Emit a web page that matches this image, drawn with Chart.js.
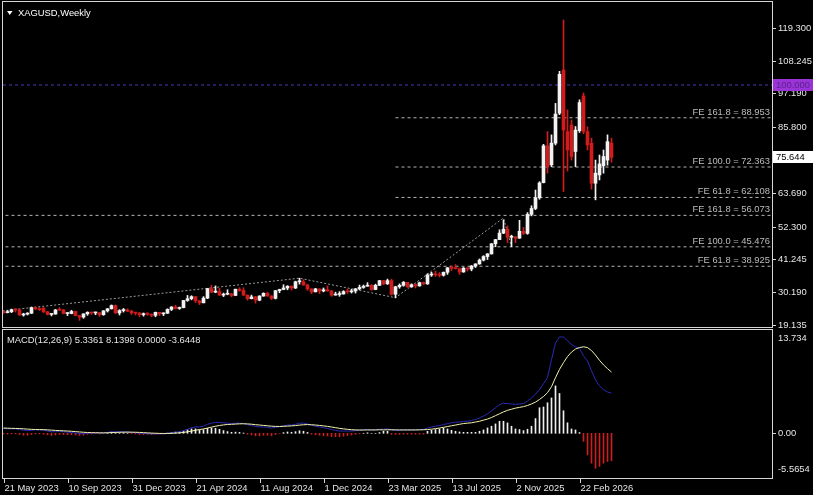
<!DOCTYPE html>
<html>
<head>
<meta charset="utf-8">
<script src="https://cdn.jsdelivr.net/npm/chart.js@4.4.1/dist/chart.umd.min.js"></script>
<style>
  html, body { margin: 0; padding: 0; background: #000; }
  #wrap { position: relative; width: 813px; height: 495px; background: #000; overflow: hidden; }
  #main { position: absolute; left: 0; top: 0; }
  #macd { position: absolute; left: 0; top: 328px; }
</style>
</head>
<body>
<div id="wrap">
  <canvas id="main" width="813" height="328"></canvas>
  <canvas id="macd" width="813" height="167"></canvas>
</div>
<script>
// XAGUSD weekly candles, one per week starting 21 May 2023
const opens = [
  23.55,23.30,23.60,24.30,24.20,22.50,22.80,23.10,25.00,24.60,
  24.80,23.60,22.70,22.80,24.20,24.20,23.00,23.00,23.70,22.30,
  21.80,22.90,23.40,23.20,23.30,22.60,23.90,24.60,25.70,23.20,
  24.00,24.20,23.80,23.20,23.20,22.60,22.80,22.75,22.40,23.40,
  22.90,23.10,24.40,25.20,24.70,25.00,27.40,28.00,28.70,27.30,
  26.60,28.20,31.40,30.20,30.40,29.20,29.50,29.60,29.10,31.20,
  30.80,29.20,28.00,28.60,27.50,28.90,29.80,28.90,28.10,30.70,
  31.10,31.60,32.20,31.60,33.70,33.70,32.60,31.30,30.30,31.30,
  30.60,31.00,30.60,29.20,29.40,29.60,30.40,30.30,30.60,31.30,
  31.80,32.20,32.50,31.10,32.50,34.10,33.00,34.10,29.50,32.00,
  32.50,33.50,32.00,32.70,32.30,33.40,33.00,36.00,36.30,36.00,
  35.90,36.90,38.40,38.20,38.10,37.00,38.30,38.00,39.00,39.70,
  41.00,42.20,43.10,46.50,47.90,50.10,51.40,48.70,48.70,48.40,
  50.70,50.00,56.40,58.40,62.00,67.10,79.50,73.10,80.40,90.50,
  105.00,84.30,86.50,77.60,84.60,96.30,84.30,80.40,66.90,69.70,
  72.80,74.70,80.40
];
const highs = [
  23.80,24.00,24.50,24.60,24.50,23.10,23.30,25.20,25.30,25.00,
  25.00,23.70,23.00,24.40,25.00,24.40,23.30,24.10,23.80,22.40,
  22.90,23.60,23.40,23.50,23.30,24.00,24.70,25.90,25.90,24.30,
  24.70,24.60,24.10,23.40,23.30,23.20,23.30,22.90,23.50,23.40,
  23.20,24.60,25.30,25.80,25.20,27.40,29.10,29.00,28.70,27.40,
  28.70,31.50,32.50,32.30,31.50,29.90,31.00,29.80,31.20,31.70,
  31.70,29.30,29.20,28.80,29.00,30.00,30.20,29.00,30.80,31.20,
  32.70,32.40,32.30,33.90,34.90,34.40,32.90,31.30,31.50,31.30,
  31.60,32.30,30.80,30.20,30.40,30.70,31.30,31.20,31.50,32.60,
  32.60,33.40,32.80,32.90,34.20,34.10,34.60,34.60,32.20,33.00,
  33.80,33.50,33.00,33.00,33.60,33.60,36.40,36.90,37.30,36.80,
  37.00,38.50,39.00,39.50,38.30,38.50,38.50,39.20,39.80,41.40,
  42.50,43.20,46.60,48.00,51.20,54.50,52.50,49.40,49.00,54.40,
  52.00,57.00,59.30,64.60,67.40,80.00,84.30,83.20,93.80,104.60,
  121.90,91.60,88.20,86.00,95.00,97.30,85.90,82.10,74.70,76.40,
  78.10,83.20,82.10
];
const lows = [
  23.00,23.20,23.30,23.50,22.40,22.10,22.50,23.00,24.30,24.00,
  23.30,22.50,22.20,22.80,24.00,22.90,22.30,22.90,22.20,20.70,
  21.40,22.40,22.70,22.60,22.00,22.40,23.50,24.50,23.00,22.50,
  23.50,23.60,22.70,22.50,21.90,22.10,22.40,21.90,21.90,22.30,
  22.30,23.00,24.00,24.50,24.40,24.90,27.10,27.60,26.70,26.00,
  26.60,28.00,30.00,30.00,29.10,28.70,29.30,28.60,29.00,30.50,
  29.10,27.50,27.90,26.50,27.30,28.80,28.80,27.70,27.90,30.00,
  31.00,31.00,30.90,31.40,32.90,32.50,30.80,29.70,30.30,29.70,
  30.30,30.50,28.80,29.20,28.80,29.50,29.80,29.90,29.90,31.00,
  31.50,32.20,30.80,31.00,32.40,32.70,32.80,29.20,28.30,31.50,
  32.20,31.80,31.80,31.60,32.20,32.80,32.80,35.50,35.50,35.30,
  35.60,36.20,37.40,38.00,36.20,36.90,37.30,37.40,38.50,39.60,
  40.70,41.20,43.00,45.50,47.90,49.90,46.90,45.50,46.90,48.30,
  49.60,49.70,55.90,58.00,61.50,67.00,70.30,72.50,79.80,90.00,
  64.10,71.00,74.70,72.50,84.00,83.60,78.10,64.90,61.30,68.00,
  70.30,73.00,74.00
];
const closes = [
  23.30,23.60,24.30,24.20,22.50,22.80,23.10,25.00,24.60,24.30,
  23.60,22.70,22.80,24.20,24.15,23.00,23.05,23.70,22.30,21.80,
  22.90,23.40,23.20,23.30,22.60,23.90,24.60,25.70,23.20,24.00,
  24.20,23.80,23.20,23.15,22.60,22.80,22.75,22.40,23.40,22.90,
  23.10,24.40,25.20,24.70,25.00,27.40,28.00,28.70,27.30,26.60,
  28.20,31.40,30.20,30.40,29.20,29.50,29.60,29.10,31.20,30.80,
  29.20,28.00,28.60,27.50,28.90,29.80,28.90,28.10,30.70,31.10,
  31.60,32.20,31.60,33.70,33.75,32.60,31.30,30.30,31.30,30.60,
  31.00,30.60,29.20,29.40,29.60,30.40,30.30,30.60,31.30,31.80,
  32.20,32.50,31.10,32.50,34.10,33.00,34.10,29.50,32.00,32.50,
  33.50,32.00,32.70,32.30,33.40,33.00,36.00,36.30,36.00,35.90,
  36.90,38.40,38.20,38.10,37.00,38.30,38.00,39.00,39.70,41.00,
  42.20,43.10,46.50,47.90,50.10,51.40,48.70,48.80,48.40,50.70,
  50.00,56.40,58.40,62.00,67.00,79.50,72.50,80.40,90.20,103.60,
  84.80,78.10,75.90,84.80,94.10,84.30,79.80,66.90,70.30,73.40,
  75.90,80.90,75.644
];

// MACD(12,26,9) buffers
const macdMain = [
  0.65,0.60,0.60,0.60,0.50,0.40,0.35,0.40,0.45,0.45,0.40,
  0.30,0.20,0.22,0.25,0.20,0.15,0.12,0.05,-0.05,-0.05,
  0.00,0.02,0.05,0.02,0.05,0.12,0.22,0.20,0.20,0.20,0.18,
  0.12,0.08,0.00,-0.03,-0.05,-0.10,-0.08,-0.08,-0.08,0.00,0.10,0.15,0.20,
  0.35,0.55,0.75,0.85,0.85,0.95,1.20,1.35,1.45,1.45,1.40,1.35,1.30,1.35,1.35,1.30,
  1.15,1.05,0.90,0.85,0.85,0.80,0.70,0.80,0.90,1.00,1.10,1.10,1.20,1.35,1.35,
  1.25,1.05,0.95,0.85,0.75,0.65,0.50,0.40,0.30,0.30,0.30,0.30,0.35,0.40,0.45,0.50,0.45,0.45,0.55,
  0.55,0.60,0.45,0.40,0.40,0.45,0.45,0.45,0.45,0.50,0.50,0.70,0.85,0.95,1.05,1.15,
  1.30,1.40,1.50,1.50,1.60,1.60,1.70,1.85,2.05,2.30,2.60,3.00,3.40,3.80,4.00,
  3.95,3.90,3.85,3.90,3.95,4.30,4.70,5.20,5.80,6.60,7.40,9.80,12.00,12.80,
  12.80,12.30,11.80,11.50,11.30,10.30,9.60,8.30,7.10,6.30,5.80,5.50,5.3361
];
const macdSignal = [
  0.70,0.68,0.66,0.65,0.63,0.60,0.56,0.53,0.51,0.50,0.49,
  0.46,0.42,0.39,0.36,0.33,0.30,0.27,0.23,0.18,0.14,
  0.11,0.09,0.08,0.07,0.06,0.07,0.10,0.12,0.14,0.15,0.16,
  0.15,0.14,0.12,0.09,0.06,0.03,0.01,-0.01,-0.02,-0.02,0.00,0.03,0.06,
  0.12,0.20,0.30,0.40,0.50,0.58,0.70,0.82,0.94,1.04,1.12,1.17,1.20,1.23,1.26,1.27,
  1.25,1.21,1.15,1.10,1.05,1.00,0.95,0.92,0.91,0.93,0.96,0.99,1.03,1.09,1.14,
  1.16,1.14,1.10,1.05,0.99,0.92,0.84,0.75,0.66,0.59,0.53,0.48,0.45,0.44,0.44,0.45,0.45,0.45,0.47,
  0.45,0.47,0.47,0.46,0.45,0.45,0.45,0.45,0.45,0.46,0.47,0.50,0.55,0.62,0.70,0.80,
  0.90,1.00,1.10,1.20,1.30,1.35,1.40,1.50,1.60,1.75,1.90,2.10,2.35,2.60,2.85,
  3.05,3.20,3.35,3.45,3.55,3.70,3.90,4.15,4.50,4.90,5.40,6.20,7.40,8.50,
  9.40,10.20,10.80,11.20,11.40,11.50,11.40,11.00,10.40,9.70,9.10,8.60,8.1398
];
const macdHist = [
  -0.07,-0.10,-0.08,-0.07,-0.17,-0.26,-0.27,-0.17,-0.08,-0.07,-0.12,
  -0.21,-0.29,-0.22,-0.14,-0.17,-0.20,-0.20,-0.23,-0.30,-0.25,
  -0.14,-0.09,-0.04,-0.07,-0.01,0.07,0.16,0.10,0.08,0.07,0.03,
  -0.04,-0.08,-0.16,-0.16,-0.14,-0.17,-0.12,-0.09,-0.08,0.03,0.13,0.16,0.18,
  0.30,0.46,0.59,0.59,0.46,0.48,0.65,0.69,0.66,0.53,0.36,0.23,0.13,0.16,0.12,0.04,
  -0.13,-0.21,-0.33,-0.33,-0.26,-0.26,-0.33,-0.16,-0.01,0.09,0.18,0.14,0.22,0.34,0.27,
  0.12,-0.12,-0.20,-0.26,-0.31,-0.35,-0.44,-0.46,-0.47,-0.38,-0.30,-0.23,-0.13,-0.05,0.01,0.07,0.00,0.00,0.10,
  0.27,0.27,-0.15,-0.15,-0.15,-0.12,-0.12,-0.12,-0.12,-0.10,-0.10,0.27,0.40,0.50,0.58,0.70,
  0.58,0.40,0.27,0.18,0.13,0.13,0.13,0.13,0.27,0.45,0.71,0.94,1.25,1.60,1.60,
  1.38,0.94,0.58,0.50,0.36,0.54,0.94,1.96,3.40,3.50,4.06,4.70,6.30,5.30,
  3.00,1.40,0.58,0.45,0.10,-1.07,-2.86,-3.97,-4.64,-4.40,-3.97,-3.75,-3.6448
];

// right price scale labels
const priceTicks = ['119.300','108.245','97.190','85.800','63.690','52.300','41.245','30.190','19.135'];
const macdTicks = ['13.734','0.00','-5.5654'];
// date axis: bar index of each label
const dateTickIdx = [0,16,32,48,64,80,96,112,128,144];
const dateTickLabels = ['21 May 2023','10 Sep 2023','31 Dec 2023','21 Apr 2024','11 Aug 2024',
  '1 Dec 2024','23 Mar 2025','13 Jul 2025','2 Nov 2025','22 Feb 2026'];

// fibo expansion levels
const feRatio = ['161.8','100.0','61.8','161.8','100.0','61.8'];
const feValue = [88.953,72.363,62.108,56.073,45.476,38.925];
const feFrom = [98,98,98,-43,-43,-43];
// A-B-C anchor points of the two expansions
const fiboX = [-43,74,98,125,127];
const fiboY = [17.60,34.90,28.33,55.20,45.50];
const roundLevel = 100.000;
const lastPrice = 75.644;
const macdLabel = 'MACD(12,26,9) 5.3361 8.1398 0.0000 -3.6448';

const FONT = '9.4px "Liberation Sans", Arial, sans-serif';
const XMIN = -0.125, XMAX = 192.125;
const idx = opens.map((_, i) => i);
const candleCol = idx.map(i => closes[i] >= opens[i] ? '#f2f2f2' : '#d01c1c');

const mainDeco = {
  id: 'mainDeco',
  afterDraw(chart) {
    const { ctx, scales: { y } } = chart;
    ctx.save();
    ctx.font = FONT;
    // FE labels
    ctx.fillStyle = '#bdbdbd';
    ctx.textAlign = 'right';
    ctx.textBaseline = 'alphabetic';
    feValue.forEach((v, k) => {
      ctx.fillText('FE ' + feRatio[k] + ' = ' + v.toFixed(3), 770, Math.round(y.getPixelForValue(v)) - 3);
    });
    // frame
    ctx.strokeStyle = '#d6d6d6';
    ctx.lineWidth = 1;
    ctx.strokeRect(2.5, 1.5, 770, 326);
    // price axis
    ctx.fillStyle = '#e6e6e6';
    ctx.textAlign = 'left';
    ctx.textBaseline = 'middle';
    priceTicks.forEach(t => {
      const py = Math.round(y.getPixelForValue(parseFloat(t))) + 0.5;
      ctx.beginPath(); ctx.moveTo(773, py); ctx.lineTo(776, py); ctx.stroke();
      ctx.fillText(t, 778, py);
    });
    // level boxes
    let py = Math.round(y.getPixelForValue(roundLevel));
    ctx.fillStyle = '#9a34d6';
    ctx.fillRect(773, py - 6, 40, 12);
    ctx.fillStyle = '#5c1f8e';
    ctx.fillText(roundLevel.toFixed(3), 776, py);
    py = Math.round(y.getPixelForValue(lastPrice));
    ctx.fillStyle = '#ffffff';
    ctx.fillRect(773, py - 6, 40, 12);
    ctx.fillStyle = '#000000';
    ctx.fillText(lastPrice.toFixed(3), 776, py);
    // title
    ctx.fillStyle = '#ffffff';
    ctx.beginPath(); ctx.moveTo(7, 11); ctx.lineTo(12.5, 11); ctx.lineTo(9.75, 15); ctx.closePath(); ctx.fill();
    ctx.fillText('XAGUSD,Weekly', 18, 13.5);
    ctx.restore();
  }
};

const macdDeco = {
  id: 'macdDeco',
  afterDraw(chart) {
    const { ctx, scales: { x, y } } = chart;
    ctx.save();
    ctx.font = FONT;
    ctx.strokeStyle = '#d6d6d6';
    ctx.lineWidth = 1;
    ctx.strokeRect(2.5, 1.5, 770, 149);
    ctx.fillStyle = '#e6e6e6';
    ctx.textBaseline = 'middle';
    ctx.textAlign = 'left';
    ctx.fillText(macdLabel, 7, 12);
    // macd axis
    ctx.fillText(macdTicks[0], 778, 10);
    let py = Math.round(y.getPixelForValue(0)) + 0.5;
    ctx.beginPath(); ctx.moveTo(773, py); ctx.lineTo(776, py); ctx.stroke();
    ctx.fillText(macdTicks[1], 778, py);
    ctx.fillText(macdTicks[2], 778, 141);
    // date axis
    dateTickIdx.forEach((i, k) => {
      const px = Math.round(x.getPixelForValue(i)) + 0.5;
      ctx.beginPath(); ctx.moveTo(px, 151); ctx.lineTo(px, 155); ctx.stroke();
      ctx.fillText(dateTickLabels[k], px, 160);
    });
    ctx.restore();
  }
};

const baseOpts = {
  responsive: false,
  animation: false,
  events: [],
  plugins: { legend: { display: false }, tooltip: { enabled: false } }
};

new Chart(document.getElementById('main'), {
  type: 'bar',
  data: {
    datasets: [
      ...feValue.map((v, k) => ({
        type: 'line',
        data: [{ x: feFrom[k], y: v }, { x: XMAX, y: v }],
        borderColor: '#b4b4b4', borderWidth: 1, borderDash: [3, 3],
        pointRadius: 0, order: 5
      })),
      {
        type: 'line',
        data: [{ x: XMIN, y: roundLevel }, { x: XMAX, y: roundLevel }],
        borderColor: '#4a3cb4', borderWidth: 1, borderDash: [3, 3],
        pointRadius: 0, order: 5
      },
      {
        type: 'line',
        data: fiboX.map((xv, k) => ({ x: xv, y: fiboY[k] })),
        borderColor: '#9a9a9a', borderWidth: 1, borderDash: [2, 2],
        pointRadius: 0, order: 4
      },
      {
        data: idx.map(i => ({ x: i, y: [lows[i], highs[i]] })),
        backgroundColor: candleCol, barThickness: 1, grouped: false, order: 2
      },
      {
        data: idx.map(i => ({ x: i, y: [opens[i], closes[i]] })),
        backgroundColor: candleCol, barThickness: 3, grouped: false, minBarLength: 1, order: 1
      }
    ]
  },
  options: {
    ...baseOpts,
    layout: { padding: { left: 3, right: 41, top: 2, bottom: 1 } },
    scales: {
      x: { type: 'linear', min: XMIN, max: XMAX, offset: false, display: false },
      y: { min: 18.461, max: 127.96, display: false }
    }
  },
  plugins: [mainDeco]
});

new Chart(document.getElementById('macd'), {
  type: 'bar',
  data: {
    datasets: [
      {
        type: 'line',
        data: idx.map(i => ({ x: i, y: macdSignal[i] })),
        borderColor: '#f2f2ac', borderWidth: 1, pointRadius: 0, order: 0
      },
      {
        type: 'line',
        data: idx.map(i => ({ x: i, y: macdMain[i] })),
        borderColor: '#2a2ab8', borderWidth: 1, pointRadius: 0, order: 1
      },
      {
        data: idx.map(i => ({ x: i, y: macdHist[i] })),
        backgroundColor: macdHist.map(v => v >= 0 ? '#efefef' : '#cc1f1f'),
        barThickness: 1, grouped: false, order: 2
      }
    ]
  },
  options: {
    ...baseOpts,
    layout: { padding: { left: 3, right: 41, top: 2, bottom: 17 } },
    scales: {
      x: { type: 'linear', min: XMIN, max: XMAX, offset: false, display: false },
      y: { min: -5.94, max: 13.734, display: false }
    }
  },
  plugins: [macdDeco]
});
</script>
</body>
</html>
